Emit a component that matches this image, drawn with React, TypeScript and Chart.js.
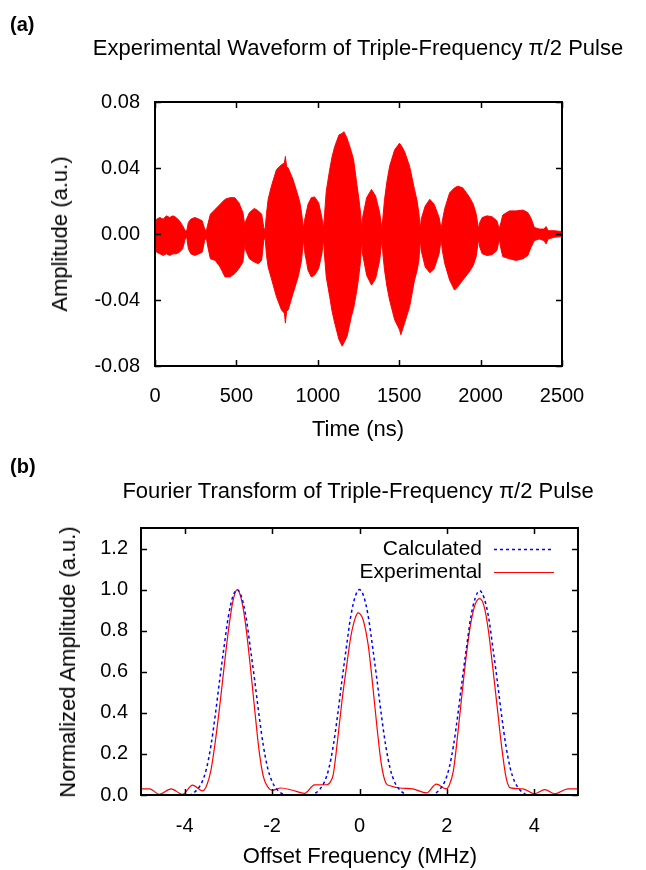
import React, { useEffect, useRef } from "react";
import { Chart, registerables } from "chart.js";

Chart.register(...registerables);

const FONT = '"Liberation Sans", Arial, Helvetica, sans-serif';

// ---------- Panel (a): experimental waveform (envelope of the dense oscillation) ----------
const timeNs = [
  0, 10, 30, 50, 70, 90, 110, 130, 150, 170, 185, 195,
  205, 220, 245, 270, 290, 305, 315,
  325, 340, 370, 400, 430, 460, 490, 515, 540, 552,
  558, 580, 610, 635, 655, 668, 676,
  685, 695, 715, 746, 777, 795, 801, 808, 818, 848, 879, 890, 900, 912,
  918, 940, 960, 980, 1005, 1025, 1035,
  1042, 1052, 1073, 1088, 1104, 1130, 1150, 1160, 1180, 1206, 1220, 1240, 1250, 1263, 1270,
  1275, 1300, 1330, 1355, 1380, 1394,
  1400, 1410, 1425, 1441, 1472, 1502, 1510, 1533, 1564, 1594, 1610, 1621, 1630,
  1635, 1660, 1688, 1715, 1745, 1758,
  1765, 1780, 1810, 1840, 1860, 1890, 1930, 1955, 1972, 1988,
  1995, 2010, 2040, 2070, 2100, 2115,
  2125, 2136, 2177, 2217, 2260, 2290, 2310, 2330,
  2360, 2390, 2402, 2415, 2450, 2500,
];
const envUpper = [
  0.002, 0.009, 0.010, 0.009, 0.011, 0.010, 0.011, 0.010, 0.008, 0.005, 0.002, 0.002,
  0.007, 0.009, 0.010, 0.009, 0.008, 0.003, 0.002,
  0.006, 0.012, 0.015, 0.018, 0.021, 0.022, 0.022, 0.019, 0.013, 0.005,
  0.008, 0.013, 0.0155, 0.014, 0.012, 0.004, 0.002,
  0.0125, 0.021, 0.029, 0.039, 0.042, 0.043, 0.047, 0.041, 0.040, 0.033, 0.023, 0.019, 0.013, 0.003,
  0.008, 0.018, 0.022, 0.0225, 0.019, 0.010, 0.003,
  0.0125, 0.026, 0.039, 0.047, 0.053, 0.060, 0.061, 0.062, 0.058, 0.050, 0.045, 0.030, 0.023, 0.0125, 0.003,
  0.010, 0.022, 0.027, 0.023, 0.013, 0.003,
  0.010, 0.021, 0.032, 0.041, 0.051, 0.055, 0.054, 0.050, 0.041, 0.027, 0.020, 0.0125, 0.003,
  0.009, 0.017, 0.021, 0.018, 0.010, 0.003,
  0.008, 0.0155, 0.025, 0.028, 0.029, 0.028, 0.0226, 0.018, 0.0125, 0.003,
  0.007, 0.010, 0.011, 0.0105, 0.008, 0.003,
  0.007, 0.0115, 0.014, 0.014, 0.0145, 0.013, 0.0095, 0.004,
  0.003, 0.003, 0.0045, 0.002, 0.002, 0.0015,
];
const envLower = [
  -0.002, -0.011, -0.012, -0.013, -0.012, -0.013, -0.012, -0.012, -0.011, -0.009, -0.003, -0.002,
  -0.009, -0.012, -0.013, -0.012, -0.011, -0.004, -0.002,
  -0.008, -0.015, -0.016, -0.020, -0.026, -0.026, -0.024, -0.021, -0.017, -0.006,
  -0.010, -0.015, -0.017, -0.018, -0.016, -0.004, -0.002,
  -0.013, -0.020, -0.027, -0.038, -0.046, -0.048, -0.054, -0.047, -0.046, -0.036, -0.026, -0.021, -0.016, -0.003,
  -0.010, -0.022, -0.026, -0.025, -0.021, -0.012, -0.003,
  -0.014, -0.026, -0.038, -0.047, -0.054, -0.064, -0.068, -0.066, -0.062, -0.050, -0.045, -0.034, -0.027, -0.016, -0.004,
  -0.012, -0.025, -0.031, -0.027, -0.016, -0.003,
  -0.012, -0.022, -0.032, -0.040, -0.052, -0.058, -0.061, -0.054, -0.044, -0.028, -0.022, -0.016, -0.003,
  -0.010, -0.020, -0.0235, -0.021, -0.012, -0.003,
  -0.010, -0.018, -0.028, -0.034, -0.032, -0.028, -0.023, -0.019, -0.014, -0.003,
  -0.008, -0.012, -0.013, -0.0125, -0.010, -0.003,
  -0.009, -0.0137, -0.015, -0.016, -0.015, -0.013, -0.008, -0.004,
  -0.003, -0.004, -0.006, -0.003, -0.002, -0.0015,
];
const timeTicks = [0, 500, 1000, 1500, 2000, 2500];
const ampTicks = [-0.08, -0.04, 0, 0.04, 0.08];

// ---------- Panel (b): Fourier transform ----------
const calcFreq = [
  -5.0, -3.9, -3.8, -3.7, -3.6, -3.5, -3.4, -3.3, -3.2, -3.1, -3.0, -2.9, -2.8,
  -2.7, -2.6, -2.5, -2.4, -2.3, -2.2, -2.1, -2.0, -1.9, -1.8, -1.7,
  -1.1, -1.0, -0.9, -0.8, -0.7, -0.6, -0.5, -0.4, -0.3, -0.2, -0.1, 0,
  0.1, 0.2, 0.3, 0.4, 0.5, 0.6, 0.7, 0.8, 0.9, 1.0, 1.1,
  1.65, 1.75, 1.85, 1.95, 2.05, 2.15, 2.25, 2.35, 2.45, 2.55, 2.65, 2.75,
  2.85, 2.95, 3.05, 3.15, 3.25, 3.35, 3.45, 3.55, 3.65, 3.75, 3.85, 5.0,
];
const calcAmp = [
  0, 0, 0.01, 0.03, 0.065, 0.13, 0.24, 0.39, 0.56, 0.72, 0.87, 0.965, 1.0,
  0.965, 0.87, 0.72, 0.56, 0.39, 0.24, 0.13, 0.065, 0.03, 0.01, 0,
  0, 0.01, 0.03, 0.065, 0.13, 0.24, 0.39, 0.56, 0.72, 0.87, 0.965, 1.0,
  0.965, 0.87, 0.72, 0.56, 0.39, 0.24, 0.13, 0.065, 0.03, 0.01, 0,
  0, 0.01, 0.03, 0.065, 0.13, 0.24, 0.39, 0.56, 0.72, 0.87, 0.96, 0.995,
  0.96, 0.87, 0.72, 0.56, 0.39, 0.24, 0.13, 0.065, 0.03, 0.01, 0, 0,
];
const expFreq = [
  -5.0, -4.8, -4.58, -4.31, -4.05, -3.82, -3.59, -3.5, -3.4, -3.3, -3.2, -3.1, -3.0, -2.9, -2.8,
  -2.7, -2.6, -2.5, -2.4, -2.3, -2.2, -2.1, -2.0, -1.8, -1.53, -1.26, -1.03, -0.85, -0.75,
  -0.65, -0.6, -0.5, -0.4, -0.3, -0.2, -0.1, -0.03, 0.05, 0.1, 0.2, 0.3, 0.4, 0.5, 0.6, 0.7,
  0.92, 1.22, 1.53, 1.76, 1.98, 2.05, 2.15, 2.25, 2.35, 2.45, 2.55, 2.65, 2.75,
  2.85, 2.95, 3.05, 3.15, 3.25, 3.35, 3.45, 3.74, 4.0, 4.24, 4.47, 4.77, 5.0,
];
const expAmp = [
  0.03, 0.03, 0.003, 0.03, 0.003, 0.048, 0.02, 0.045, 0.12, 0.26, 0.43, 0.62, 0.80, 0.94, 1.0,
  0.95, 0.82, 0.63, 0.42, 0.22, 0.09, 0.04, 0.023, 0.034, 0.023, 0.008, 0.049, 0.05, 0.05,
  0.07, 0.1, 0.27, 0.46, 0.62, 0.77, 0.86, 0.887, 0.87, 0.84, 0.73, 0.54, 0.33, 0.15, 0.06, 0.045,
  0.034, 0.03, 0.01, 0.053, 0.03, 0.045, 0.12, 0.3, 0.5, 0.69, 0.84, 0.93, 0.956,
  0.92, 0.8, 0.62, 0.43, 0.24, 0.09, 0.035, 0.03, 0.006, 0.026, 0.006, 0.03, 0.03,
];
const freqTicks = [-4, -2, 0, 2, 4];
const normTicks = [0, 0.2, 0.4, 0.6, 0.8, 1.0, 1.2];
const legendLabels = ["Calculated", "Experimental"];

// ---------- plugins ----------
const framePlugin = {
  id: "frame",
  afterDraw(chart: any) {
    const { ctx, chartArea: a, scales } = chart;
    const L = 6;
    ctx.save();
    ctx.strokeStyle = "#000";
    ctx.lineWidth = 1.5;
    ctx.beginPath();
    scales.x.ticks.forEach((t: any) => {
      const px = Math.round(scales.x.getPixelForValue(t.value)) + 0.5;
      ctx.moveTo(px, a.bottom);
      ctx.lineTo(px, a.bottom - L);
      ctx.moveTo(px, a.top);
      ctx.lineTo(px, a.top + L);
    });
    scales.y.ticks.forEach((t: any) => {
      const py = Math.round(scales.y.getPixelForValue(t.value)) + 0.5;
      ctx.moveTo(a.left, py);
      ctx.lineTo(a.left + L, py);
      ctx.moveTo(a.right, py);
      ctx.lineTo(a.right - L, py);
    });
    ctx.stroke();
    ctx.lineWidth = 2;
    ctx.strokeRect(a.left, a.top, a.right - a.left, a.bottom - a.top);
    ctx.restore();
  },
};

const keyPlugin = {
  id: "key",
  afterDraw(chart: any) {
    const { ctx, chartArea: a } = chart;
    ctx.save();
    ctx.font = `21px ${FONT}`;
    ctx.fillStyle = "#000";
    ctx.textAlign = "right";
    ctx.textBaseline = "middle";
    const rows = [a.top + 21, a.top + 44];
    chart.data.datasets.forEach((ds: any, i: number) => {
      const y = rows[i];
      ctx.fillText(legendLabels[i], a.right - 96, y);
      ctx.beginPath();
      ctx.strokeStyle = ds.borderColor;
      ctx.lineWidth = ds.borderWidth;
      ctx.setLineDash(ds.borderDash || []);
      ctx.moveTo(a.right - 84, y + 0.5);
      ctx.lineTo(a.right - 24, y + 0.5);
      ctx.stroke();
    });
    ctx.restore();
  },
};

const tickFont = { family: FONT, size: 20 };

function linearAxis(min: number, max: number, tickVals: number[], digits: number, size: number, pad: number, isY: boolean) {
  return {
    type: "linear" as const,
    min,
    max,
    grid: { display: false, drawTicks: false },
    border: { display: false },
    afterBuildTicks: (s: any) => {
      s.ticks = tickVals.map((v) => ({ value: v }));
    },
    afterFit: (s: any) => {
      if (isY) s.width = size;
      else s.height = size;
    },
    ticks: {
      color: "#000",
      font: tickFont,
      padding: pad,
      maxRotation: 0,
      autoSkip: false,
      callback: (v: any) => Number(v).toFixed(digits),
    },
  };
}

function WaveformChart() {
  const ref = useRef<HTMLCanvasElement>(null);
  useEffect(() => {
    const upper = timeNs.map((t, i) => ({ x: t, y: envUpper[i] }));
    const lower = timeNs.map((t, i) => ({ x: t, y: envLower[i] }));
    const chart = new Chart(ref.current as HTMLCanvasElement, {
      type: "line",
      data: {
        datasets: [
          { data: upper, borderColor: "#ff0000", backgroundColor: "#ff0000", borderWidth: 1, pointRadius: 0, fill: "+1", tension: 0 },
          { data: lower, borderColor: "#ff0000", backgroundColor: "#ff0000", borderWidth: 1, pointRadius: 0, fill: false, tension: 0 },
        ],
      },
      options: {
        animation: false,
        responsive: false,
        events: [],
        layout: { padding: { top: 102, right: 84, bottom: 34, left: 0 } },
        plugins: { legend: { display: false }, tooltip: { enabled: false }, title: { display: false } },
        scales: {
          x: linearAxis(0, 2500, timeTicks, 0, 60, 18, false),
          y: linearAxis(-0.08, 0.08, ampTicks, 2, 155, 15, true),
        },
      } as any,
      plugins: [framePlugin],
    });
    return () => chart.destroy();
  }, []);
  return <canvas ref={ref} width={646} height={460} style={{ position: "absolute", left: 0, top: 0 }} />;
}

function SpectrumChart() {
  const ref = useRef<HTMLCanvasElement>(null);
  useEffect(() => {
    const calc = calcFreq.map((f, i) => ({ x: f, y: calcAmp[i] }));
    const exp = expFreq.map((f, i) => ({ x: f, y: expAmp[i] }));
    const chart = new Chart(ref.current as HTMLCanvasElement, {
      type: "line",
      data: {
        datasets: [
          { label: legendLabels[0], data: calc, borderColor: "#0000ff", borderWidth: 1.5, borderDash: [3, 3], pointRadius: 0, fill: false, cubicInterpolationMode: "monotone" },
          { label: legendLabels[1], data: exp, borderColor: "#ff0000", borderWidth: 1.2, pointRadius: 0, fill: false, cubicInterpolationMode: "monotone" },
        ],
      },
      options: {
        animation: false,
        responsive: false,
        events: [],
        layout: { padding: { top: 68, right: 68, bottom: 15, left: 0 } },
        plugins: { legend: { display: false }, tooltip: { enabled: false }, title: { display: false } },
        scales: {
          x: linearAxis(-5, 5, freqTicks, 0, 60, 19, false),
          y: linearAxis(0, 1.3, normTicks, 1, 141, 13, true),
        },
      } as any,
      plugins: [framePlugin, keyPlugin],
    });
    return () => chart.destroy();
  }, []);
  return <canvas ref={ref} width={646} height={410} style={{ position: "absolute", left: 0, top: 460 }} />;
}

function Label(props: { x: number; y: number; text: string; size?: number; bold?: boolean; rotate?: boolean; left?: boolean }) {
  const { x, y, text, size = 22, bold, rotate, left } = props;
  return (
    <div
      style={{
        position: "absolute",
        left: x,
        top: y,
        transform: `${left ? "translate(0,-50%)" : "translate(-50%,-50%)"}${rotate ? " rotate(-90deg)" : ""}`,
        whiteSpace: "nowrap",
        fontFamily: FONT,
        fontSize: size,
        fontWeight: bold ? "bold" : "normal",
        lineHeight: 1,
        color: "#000",
      }}
    >
      {text}
    </div>
  );
}

export default function App() {
  return (
    <div style={{ position: "absolute", left: 0, top: 0, width: 646, height: 870, background: "#fff", overflow: "hidden" }}>
      <WaveformChart />
      <SpectrumChart />
      <Label x={10} y={24} text="(a)" size={20} bold left />
      <Label x={358} y={48} text="Experimental Waveform of Triple-Frequency π/2 Pulse" />
      <Label x={60} y={234} text="Amplitude (a.u.)" rotate />
      <Label x={358} y={429} text="Time (ns)" />
      <Label x={10} y={466} text="(b)" size={20} bold left />
      <Label x={358} y={491} text="Fourier Transform of Triple-Frequency π/2 Pulse" />
      <Label x={68} y={662} text="Normalized Amplitude (a.u.)" rotate />
      <Label x={360} y={856} text="Offset Frequency (MHz)" />
    </div>
  );
}
